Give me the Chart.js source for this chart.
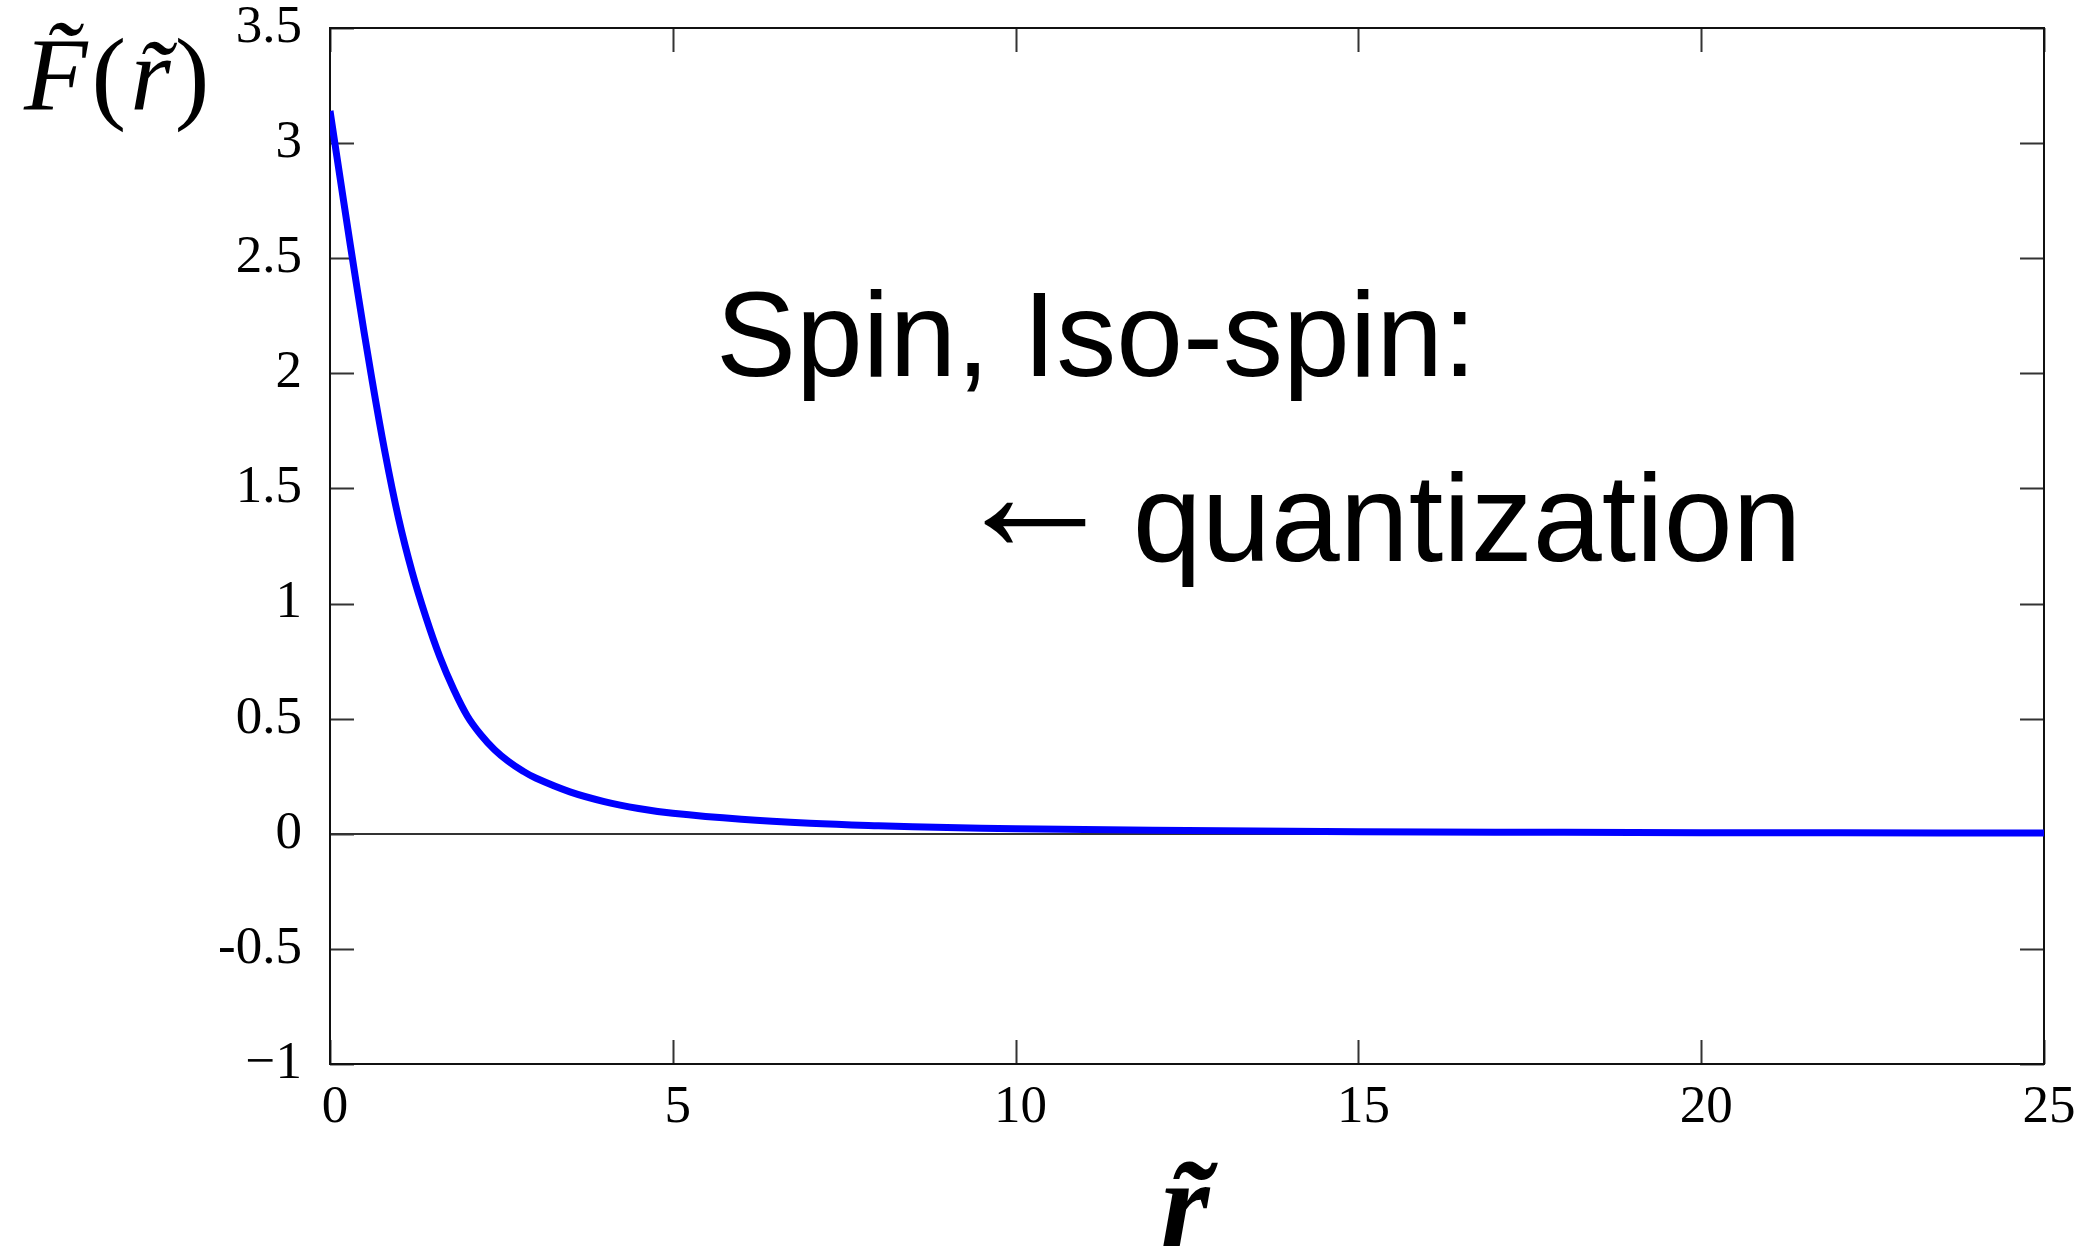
<!DOCTYPE html>
<html>
<head>
<meta charset="utf-8">
<script src="https://cdn.jsdelivr.net/npm/chart.js@4.4.1/dist/chart.umd.min.js"></script>
<style>
  html, body { margin: 0; padding: 0; background: #fff; }
</style>
</head>
<body>
<canvas id="myChart" width="2091" height="1250"></canvas>
<script>
// profile function F(r)
const rValues = [0, 0.2, 0.4, 0.6, 0.8, 1.0, 1.2, 1.4, 1.6, 1.8, 2.0, 2.2, 2.4, 2.6, 2.8, 3.0, 3.5, 4.0, 4.5, 5.0,
  6, 7, 8, 9, 10, 12, 14, 16, 18, 20, 22, 25];
const fValues = [3.14, 2.745, 2.36, 1.995, 1.66, 1.37, 1.135, 0.94, 0.77, 0.63, 0.513, 0.43, 0.365, 0.315, 0.275, 0.242,
  0.182, 0.14, 0.11, 0.089, 0.063, 0.046, 0.035, 0.027, 0.022, 0.015, 0.011, 0.008, 0.0065, 0.005, 0.0042, 0.0032];

const xTickValues = [0, 5, 10, 15, 20, 25];
const xTickLabels = ["0", "5", "10", "15", "20", "25"];
const yTickValues = [-1, -0.5, 0, 0.5, 1, 1.5, 2, 2.5, 3, 3.5];
const yTickLabels = ["\u22121", "-0.5", "0", "0.5", "1", "1.5", "2", "2.5", "3", "3.5"];

// annotation text, anchored in data units
const notes = [
  { text: "Spin, Iso-spin:", r: 5.63, f: 1.99, size: 120 },
  { text: "\u2190", r: 9.04, f: 1.23, size: 170 },
  { text: "quantization", r: 11.71, f: 1.186, size: 124 },
];

const serif = "'Liberation Serif', 'DejaVu Serif', serif";
const sans = "'Liberation Sans', Arial, sans-serif";

function labelFor(values, labels, v) {
  const i = values.findIndex((t) => Math.abs(t - v) < 1e-9);
  return i >= 0 ? labels[i] : "";
}

// frame + inward ticks on all four sides
const framePlugin = {
  id: "frame",
  beforeDatasetsDraw(chart) {
    const { ctx, chartArea: a, scales } = chart;
    const len = 24;
    ctx.save();
    ctx.strokeStyle = "#333";
    ctx.lineWidth = 2;
    ctx.beginPath();
    scales.y.ticks.forEach((t) => {
      const y = Math.round(scales.y.getPixelForValue(t.value)) + 0.5;
      ctx.moveTo(a.left, y); ctx.lineTo(a.left + len, y);
      ctx.moveTo(a.right, y); ctx.lineTo(a.right - len, y);
    });
    scales.x.ticks.forEach((t) => {
      const x = Math.round(scales.x.getPixelForValue(t.value)) + 0.5;
      ctx.moveTo(x, a.bottom); ctx.lineTo(x, a.bottom - len);
      ctx.moveTo(x, a.top); ctx.lineTo(x, a.top + len);
    });
    ctx.stroke();
    ctx.strokeStyle = "#111";
    ctx.strokeRect(a.left, a.top, a.right - a.left, a.bottom - a.top);
    ctx.restore();
  },
  afterDraw(chart) {
    const { ctx, chartArea: a, scales } = chart;
    ctx.save();
    ctx.fillStyle = "#000";
    ctx.textBaseline = "alphabetic";

    // annotation lines
    ctx.textAlign = "left";
    notes.forEach((n) => {
      ctx.font = n.size + "px " + sans;
      ctx.fillText(n.text, scales.x.getPixelForValue(n.r), scales.y.getPixelForValue(n.f));
    });

    // x axis title
    ctx.font = "italic bold 125px " + serif;
    ctx.textAlign = "center";
    ctx.fillText("r\u0303", (a.left + a.right) / 2 - 2, 1246);

    // y axis title F~(r~)
    ctx.textAlign = "left";
    let x = 24;
    const base = 110;
    const parts = [
      ["italic 104px " + serif, "F\u0303"],
      ["104px " + serif, "("],
      ["italic 104px " + serif, "r\u0303"],
      ["104px " + serif, ")"],
    ];
    parts.forEach(([font, s]) => {
      ctx.font = font;
      ctx.fillText(s, x, base);
      x += ctx.measureText(s).width + 4;
    });
    ctx.restore();
  },
};

function renderChart() {
  const ctx = document.getElementById("myChart");

  new Chart(ctx, {
    type: "line",
    data: {
      datasets: [
        {
          data: rValues.map((r, i) => ({ x: r, y: fValues[i] })),
          borderColor: "#0000ff",
          borderWidth: 7,
          pointRadius: 0,
          tension: 0.4,
          fill: false,
        },
      ],
    },
    options: {
      responsive: false,
      animation: false,
      devicePixelRatio: 1,
      layout: { padding: { top: 28, right: 47, left: 0, bottom: 0 } },
      plugins: { legend: { display: false }, tooltip: { enabled: false } },
      scales: {
        x: {
          type: "linear",
          min: 0,
          max: 25,
          afterFit: (s) => { s.height = 186; s.paddingLeft = 0; s.paddingRight = 0; },
          afterBuildTicks: (s) => { s.ticks = xTickValues.map((v) => ({ value: v })); },
          grid: { display: false, drawTicks: false },
          border: { display: false },
          ticks: {
            padding: 12,
            labelOffset: 5,
            color: "#000",
            font: { family: serif, size: 53 },
            maxRotation: 0,
            callback: (v) => labelFor(xTickValues, xTickLabels, v),
          },
        },
        y: {
          type: "linear",
          min: -1,
          max: 3.5,
          afterFit: (s) => { s.width = 330; s.paddingTop = 0; s.paddingBottom = 0; },
          afterBuildTicks: (s) => { s.ticks = yTickValues.map((v) => ({ value: v })); },
          grid: {
            drawTicks: false,
            lineWidth: 2,
            color: (c) => (c.tick && c.tick.value === 0 ? "#333" : "rgba(0,0,0,0)"),
          },
          border: { display: false },
          ticks: {
            padding: 28,
            color: "#000",
            font: { family: serif, size: 53 },
            callback: (v) => labelFor(yTickValues, yTickLabels, v),
          },
        },
      },
    },
    plugins: [framePlugin],
  });
}

window.onload = renderChart;
</script>
</body>
</html>
